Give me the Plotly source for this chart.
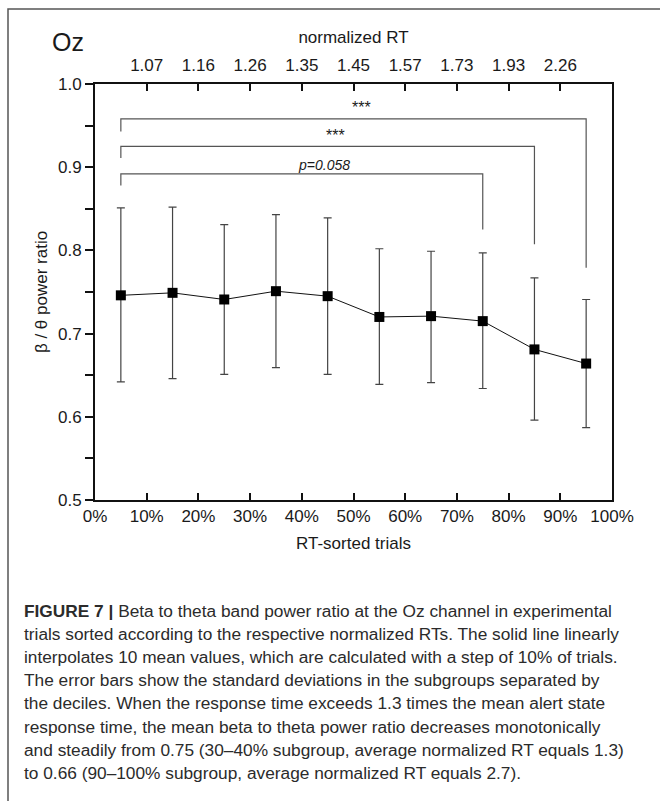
import plotly.graph_objects as go

# ---------------- data ----------------
deciles_pct = [5, 15, 25, 35, 45, 55, 65, 75, 85, 95]
mean_ratio = [0.746, 0.749, 0.741, 0.751, 0.745, 0.720, 0.721, 0.715, 0.681, 0.664]
upper_sd = [0.851, 0.852, 0.831, 0.843, 0.839, 0.802, 0.799, 0.797, 0.767, 0.741]
lower_sd = [0.642, 0.646, 0.651, 0.659, 0.651, 0.639, 0.641, 0.634, 0.596, 0.587]

bottom_tick_vals = [0, 10, 20, 30, 40, 50, 60, 70, 80, 90, 100]
bottom_tick_text = ["0%", "10%", "20%", "30%", "40%", "50%", "60%", "70%", "80%", "90%", "100%"]
top_tick_vals = [10, 20, 30, 40, 50, 60, 70, 80, 90]
top_tick_text = ["1.07", "1.16", "1.26", "1.35", "1.45", "1.57", "1.73", "1.93", "2.26"]
y_tick_vals = [0.5, 0.6, 0.7, 0.8, 0.9, 1.0]

# significance brackets (from 5% group to a later group)
bracket_start = [5, 5, 5]
bracket_end = [95, 85, 75]
bracket_height = [0.958, 0.925, 0.892]
bracket_left_bottom = [0.943, 0.911, 0.878]
bracket_right_bottom = [0.779, 0.8075, 0.825]
bracket_label = ["***", "***", "<i>p=0.058</i>"]
bracket_label_x = [51.6, 46.6, 44.2]
bracket_label_y = [0.972, 0.938, 0.9025]
bracket_label_size = [16, 16, 14]

caption_lines = [
    "<b>FIGURE 7 |</b> Beta to theta band power ratio at the Oz channel in experimental",
    "trials sorted according to the respective normalized RTs. The solid line linearly",
    "interpolates 10 mean values, which are calculated with a step of 10% of trials.",
    "The error bars show the standard deviations in the subgroups separated by",
    "the deciles. When the response time exceeds 1.3 times the mean alert state",
    "response time, the mean beta to theta power ratio decreases monotonically",
    "and steadily from 0.75 (30–40% subgroup, average normalized RT equals 1.3)",
    "to 0.66 (90–100% subgroup, average normalized RT equals 2.7).",
]

# ---------------- layout geometry ----------------
W, H = 660, 801
ML, MR, MT, MB = 95, 48, 84, 301
PW = W - ML - MR
PH = H - MT - MB


def px_x(px):
    return (px - ML) / PW


def px_y(py):
    return (H - MB - py) / PH


FONT = "Liberation Sans, Arial, sans-serif"
TXT = "#1a1a1a"

fig = go.Figure()

# brackets
for s, e, h, lb, rb in zip(bracket_start, bracket_end, bracket_height,
                           bracket_left_bottom, bracket_right_bottom):
    fig.add_trace(go.Scatter(
        x=[s, s, e, e], y=[lb, h, h, rb], mode="lines",
        line=dict(color="#555555", width=1.2), hoverinfo="skip", showlegend=False))

# main series
fig.add_trace(go.Scatter(
    x=deciles_pct, y=mean_ratio, mode="lines+markers",
    line=dict(color="#111111", width=1),
    marker=dict(symbol="square", size=10, color="#000000"),
    error_y=dict(type="data", symmetric=False,
                 array=[u - m for u, m in zip(upper_sd, mean_ratio)],
                 arrayminus=[m - l for m, l in zip(mean_ratio, lower_sd)],
                 color="#444444", thickness=1.2, width=4),
    showlegend=False))

# invisible trace for top axis
fig.add_trace(go.Scatter(x=[0, 100], y=[0.5, 0.5], xaxis="x2", mode="markers",
                         marker=dict(opacity=0), hoverinfo="skip", showlegend=False))

for lx, ly, lt, ls in zip(bracket_label_x, bracket_label_y, bracket_label, bracket_label_size):
    fig.add_annotation(x=lx, y=ly, text=lt, showarrow=False, xref="x", yref="y",
                       xanchor="center", yanchor="middle",
                       font=dict(family=FONT, size=ls, color=TXT))

axis_font = dict(family=FONT, size=17, color=TXT)

fig.update_layout(
    width=W, height=H,
    margin=dict(l=ML, r=MR, t=MT, b=MB),
    paper_bgcolor="white", plot_bgcolor="white",
    font=dict(family=FONT, color=TXT),
    xaxis=dict(range=[0, 100], tickvals=bottom_tick_vals, ticktext=bottom_tick_text,
               ticks="inside", ticklen=7, tickwidth=1.5, tickcolor="#111",
               showline=True, linewidth=2, linecolor="#111", mirror=True,
               showgrid=False, zeroline=False, tickfont=axis_font,
               title=dict(text="RT-sorted trials", font=axis_font, standoff=12)),
    xaxis2=dict(range=[0, 100], overlaying="x", side="top",
                tickvals=top_tick_vals, ticktext=top_tick_text,
                ticks="inside", ticklen=7, tickwidth=1.5, tickcolor="#111",
                showline=True, linewidth=2, linecolor="#111",
                showgrid=False, zeroline=False, tickfont=axis_font,
                ticklabelstandoff=4,
                title=dict(text="normalized RT", font=axis_font, standoff=8)),
    yaxis=dict(range=[0.5, 1.0], tickvals=y_tick_vals, tickformat=".1f",
               ticks="outside", ticklen=8, tickwidth=1.5, tickcolor="#111",
               minor=dict(dtick=0.05, ticks="outside", ticklen=8, tickwidth=1.5, tickcolor="#111"),
               showline=True, linewidth=2, linecolor="#111", mirror=True,
               showgrid=False, zeroline=False, tickfont=axis_font,
               title=dict(text="β / θ power ratio", font=axis_font, standoff=6)),
)

# panel label
fig.add_annotation(x=px_x(68), y=px_y(42), xref="paper", yref="paper", text="Oz",
                   showarrow=False, xanchor="center", yanchor="middle",
                   font=dict(family=FONT, size=25, color=TXT))

# caption lines
for i, line in enumerate(caption_lines):
    fig.add_annotation(x=px_x(22), y=px_y(611 + 23.1 * i), xref="paper", yref="paper",
                       text=line, showarrow=False, xanchor="left", yanchor="middle",
                       font=dict(family=FONT, size=17.3, color="#2b2b2b"))

# outer frame (extends beyond the page on right and bottom)
fig.add_shape(type="rect", xref="paper", yref="paper",
              x0=px_x(8), x1=px_x(W + 5), y0=px_y(H + 5), y1=px_y(9),
              line=dict(color="#555555", width=1.5), fillcolor="rgba(0,0,0,0)")

fig.write_html("out.html", config={"displayModeBar": False},
               post_script="document.body.style.margin='0px';document.body.style.overflow='hidden';")
